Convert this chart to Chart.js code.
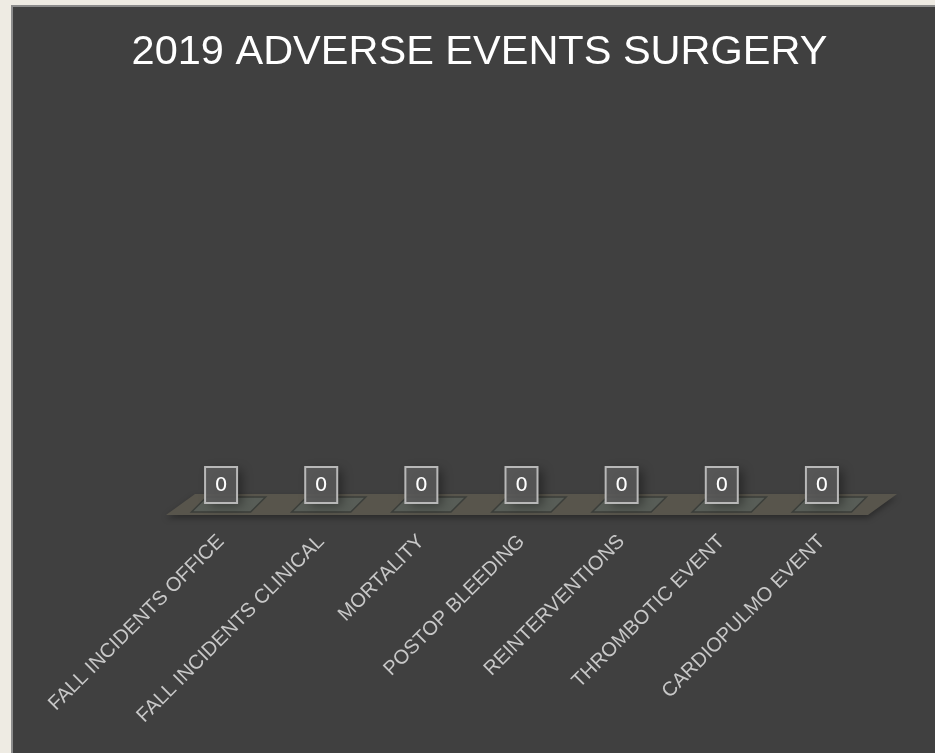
<!DOCTYPE html>
<html>
<head>
<meta charset="utf-8">
<title>2019 Adverse Events Surgery</title>
<script src="https://cdn.jsdelivr.net/npm/chart.js@4.4.1/dist/chart.umd.min.js"></script>
<style>
  html, body { margin: 0; padding: 0; background: #eeebe3; overflow: hidden; }
  #panel {
    position: absolute; left: 11px; top: 5px; width: 930px; height: 760px;
    background: #404040; border-top: 2px solid #8c8c8c; border-left: 2px solid #8c8c8c;
  }
  #wrap { position: absolute; left: 0; top: 0; width: 935px; height: 753px; }
</style>
</head>
<body>
<div id="panel"></div>
<div id="wrap"><canvas id="chartEventos"></canvas></div>
<script>
// Datos del grafico
const categorias = [
  'FALL INCIDENTS OFFICE',
  'FALL INCIDENTS CLINICAL',
  'MORTALITY',
  'POSTOP BLEEDING',
  'REINTERVENTIONS',
  'THROMBOTIC EVENT',
  'CARDIOPULMO EVENT'
];
const eventos2019 = [0, 0, 0, 0, 0, 0, 0];
const ejeYMax = 1; // eje vertical oculto

/**
 * Piso 3D y columnas planas (estilo Excel)
 */
const piso3D = {
  id: 'piso3D',
  beforeDatasetsDraw(chart) {
    const { ctx, chartArea } = chart;
    const y0 = chart.scales.y.getPixelForValue(0);
    const dx = 29, dy = -21;

    // piso
    ctx.save();
    ctx.shadowColor = 'rgba(0,0,0,0.35)';
    ctx.shadowBlur = 6;
    ctx.shadowOffsetY = 3;
    ctx.fillStyle = '#58554c';
    ctx.beginPath();
    ctx.moveTo(chartArea.left - 5, y0 + 3);
    ctx.lineTo(chartArea.right - 4, y0 + 3);
    ctx.lineTo(chartArea.right - 4 + dx, y0 + 3 + dy);
    ctx.lineTo(chartArea.left - 5 + dx, y0 + 3 + dy);
    ctx.closePath();
    ctx.fill();
    ctx.restore();

    // columnas (altura cero => solo la cara superior)
    const meta = chart.getDatasetMeta(0);
    meta.data.forEach(bar => {
      const half = bar.width / 2;
      const bx = 15, by = -15;
      ctx.save();
      ctx.fillStyle = '#585d57';
      ctx.strokeStyle = '#3b3e3a';
      ctx.lineWidth = 1.5;
      ctx.beginPath();
      ctx.moveTo(bar.x - half, bar.y);
      ctx.lineTo(bar.x + half, bar.y);
      ctx.lineTo(bar.x + half + bx, bar.y + by);
      ctx.lineTo(bar.x - half + bx, bar.y + by);
      ctx.closePath();
      ctx.fill();
      ctx.stroke();
      ctx.restore();
    });
  },
  afterDatasetsDraw(chart) {
    const { ctx } = chart;
    const meta = chart.getDatasetMeta(0);
    meta.data.forEach((bar, i) => {
      const w = 32, h = 36;
      const x = bar.x - w / 2;
      const y = bar.y - 45;
      ctx.save();
      ctx.shadowColor = 'rgba(0,0,0,0.45)';
      ctx.shadowBlur = 10;
      ctx.shadowOffsetX = 5;
      ctx.shadowOffsetY = 3;
      ctx.fillStyle = 'rgba(92,92,92,0.85)';
      ctx.fillRect(x, y, w, h);
      ctx.restore();

      ctx.save();
      ctx.strokeStyle = '#b8b8b8';
      ctx.lineWidth = 2;
      ctx.strokeRect(x, y, w, h);
      ctx.fillStyle = '#ffffff';
      ctx.font = '20px "DejaVu Sans"';
      ctx.textAlign = 'center';
      ctx.textBaseline = 'middle';
      ctx.fillText(String(eventos2019[i]), bar.x, y + h / 2 + 1);
      ctx.restore();
    });
  }
};

const ctx = document.getElementById('chartEventos');
new Chart(ctx, {
  type: 'bar',
  data: {
    labels: categorias,
    datasets: [{
      label: '2019',
      data: eventos2019,
      backgroundColor: 'rgba(0,0,0,0)',
      borderWidth: 0,
      categoryPercentage: 1,
      barPercentage: 0.59
    }]
  },
  options: {
    responsive: true,
    maintainAspectRatio: false,
    animation: false,
    layout: { padding: { left: 24, right: 0, top: 0, bottom: 0 } },
    scales: {
      x: {
        grid: { display: false, drawTicks: false },
        border: { display: false },
        ticks: {
          color: '#c8c8c8',
          font: { family: 'Liberation Sans', size: 20 },
          minRotation: 45,
          maxRotation: 45,
          autoSkip: false,
          padding: 18
        },
        afterFit(scale) {
          scale.paddingLeft = 171;
          scale.paddingRight = 63;
          scale.height = 241;
        }
      },
      y: {
        display: false,
        min: 0,
        max: ejeYMax
      }
    },
    plugins: {
      legend: { display: false },
      tooltip: { enabled: false },
      title: {
        display: true,
        text: '2019 ADVERSE EVENTS SURGERY',
        color: '#ffffff',
        font: { family: 'Liberation Sans', size: 41.5, weight: 'normal' },
        padding: { top: 28, bottom: 10 }
      }
    }
  },
  plugins: [piso3D]
});
</script>
</body>
</html>
